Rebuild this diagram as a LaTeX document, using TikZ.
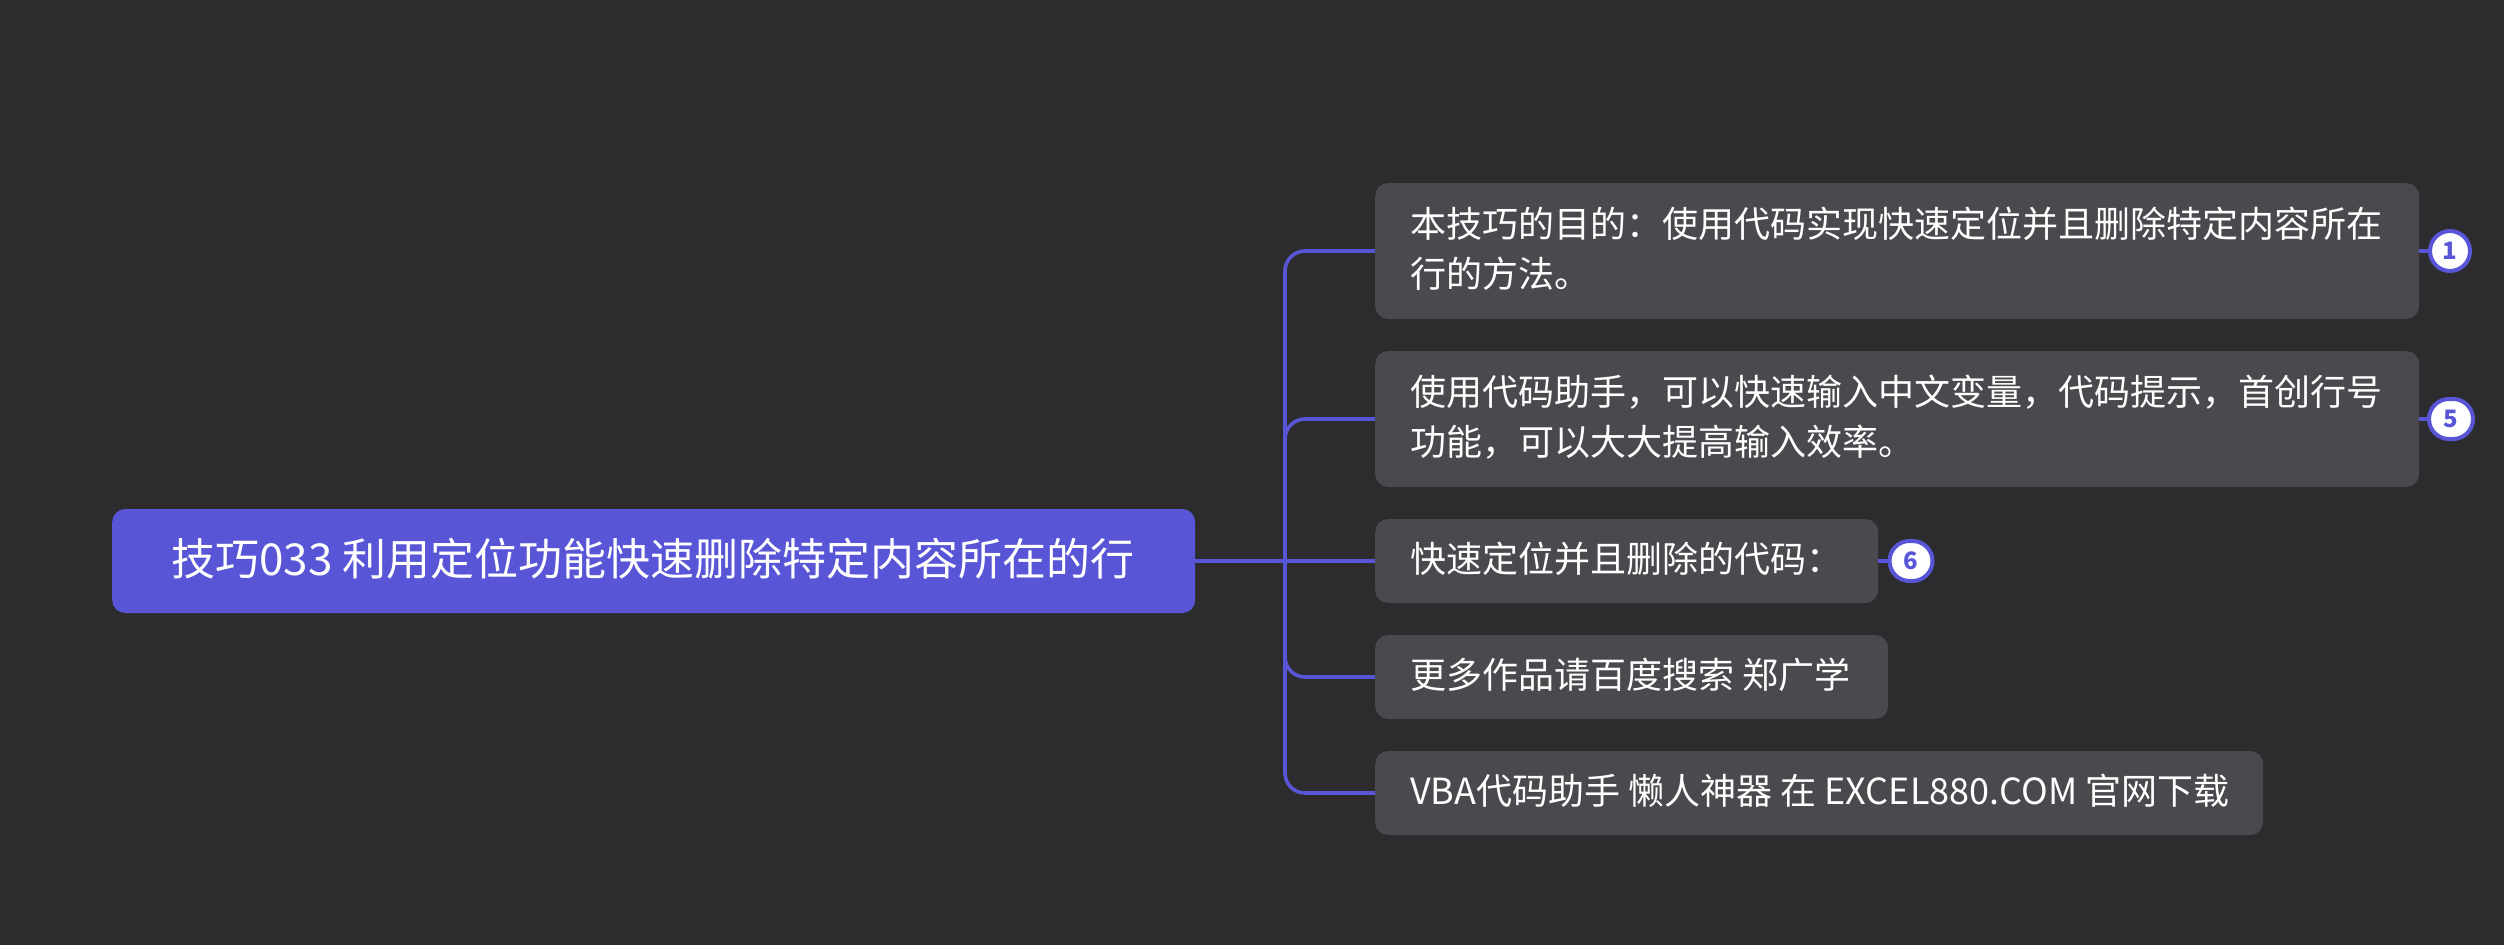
\documentclass[tikz,border=0pt]{standalone}
\usepackage{fontspec}
\setmainfont{Noto Sans CJK SC}
\definecolor{bgc}{HTML}{2C2C2E}
\definecolor{boxc}{HTML}{4A494E}
\definecolor{acc}{HTML}{5856D6}
\tikzset{
  rootbox/.style={fill=acc,rounded corners=13pt,minimum height=104pt,inner sep=0pt,anchor=west},
  topicbox/.style={fill=boxc,rounded corners=13pt,inner sep=0pt,anchor=west},
  rootlabel/.style={anchor=west,text=white,font=\fontsize{44}{50}\selectfont,inner sep=0pt},
  topiclabel/.style={anchor=west,text=white,font=\fontsize{36}{50}\selectfont,align=left,inner sep=0pt},
  badge/.style={draw=acc,line width=4pt,fill=white,rounded corners=20pt,inner sep=0pt,minimum height=40pt,text=acc,font=\bfseries\fontsize{24}{24}\selectfont},
  link/.style={draw=acc,line width=3.6pt},
}
\begin{document}
\begin{tikzpicture}[x=1pt,y=-1pt]
\path[fill=bgc,use as bounding box] (0,0) rectangle (2504,945);
\coordinate (jn) at (1285,561);
\coordinate (up) at (1285,470);
\coordinate (down) at (1285,630);
\node[rootbox,minimum width=1083pt] (root) at (112,561) {};
\node[topicbox,minimum width=1044pt,minimum height=136pt] (t1) at (1375,251) {};
\node[topicbox,minimum width=1044pt,minimum height=136pt] (t2) at (1375,419) {};
\node[topicbox,minimum width=503pt,minimum height=84pt] (t3) at (1375,561) {};
\node[topicbox,minimum width=513pt,minimum height=84pt] (t4) at (1375,677) {};
\node[topicbox,minimum width=888pt,minimum height=84pt] (t5) at (1375,793) {};
\node[rootlabel] (l0) at (171,559) {技巧033 利用定位功能快速删除特定内容所在的行};
\node[topiclabel] (l1) at (1410,249) {本技巧的目的：使用代码实现快速定位并且删除特定内容所在\\行的方法。};
\node[topiclabel] (l2) at (1410,417) {使用代码助手，可以快速输入中文变量，代码提示，首创行号\\功能，可以大大提高输入效率。};
\node[topiclabel] (l3) at (1410,559) {快速定位并且删除的代码：};
\node[topiclabel] (l4) at (1410,675) {更多作品请百度搜索 郑广学};
\node[topiclabel] (l5) at (1410,791) {VBA代码助手 懒人神器 在 EXCEL880.COM 官网下载};
\node[badge,minimum width=40pt] (b1) at (2450,251) {1};
\node[badge,minimum width=44pt] (b5) at (2451,419) {5};
\node[badge,minimum width=43pt] (b6) at (1911,561) {6};
\draw[link] (root.east) -- (t3.west);
\draw[link,rounded corners=20pt] (t1.west) -| (jn) |- (t5.west);
\draw[link,rounded corners=20pt] (t2.west) -| (up);
\draw[link,rounded corners=20pt] (t4.west) -| (down);
\draw[link] (t1.east) -- (b1.west);
\draw[link] (t2.east) -- (b5.west);
\draw[link] (t3.east) -- (b6.west);
\end{tikzpicture}
\end{document}
